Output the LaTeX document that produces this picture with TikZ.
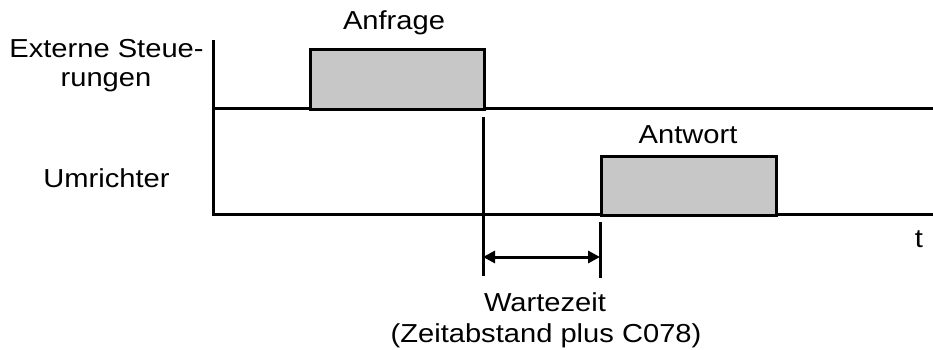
\documentclass[tikz,border=0pt]{standalone}
\usepackage{fontspec}
\setmainfont{Liberation Sans}[FakeStretch=1.12]
\usetikzlibrary{arrows.meta}
\begin{document}
\begin{tikzpicture}[x=1pt,y=-1pt,
  ln/.style={line width=3pt},
  pulse/.style={ln, fill=black!22},
  lbl/.style={font=\fontsize{26}{30}\selectfont, inner sep=0pt, anchor=base},
  dim/.style={line width=3pt, {Triangle[length=12pt,width=12pt]}-{Triangle[length=12pt,width=12pt]}}]
\useasboundingbox (0,0) rectangle (933,349);
% axes
\coordinate (ytop) at (213,40);
\coordinate (ybot) at (213,214);
\coordinate (r1a) at (213,108);
\coordinate (r1b) at (933,108);
\coordinate (r2b) at (933,214);
\draw[ln] (ytop) -- (ybot) -- (r2b);
\draw[ln] (r1a) -- (r1b);
% pulses
\node[pulse, draw, minimum width=174pt, minimum height=60pt, anchor=north west, inner sep=0pt] (req) at (309,48) {};
\node[pulse, draw, minimum width=175pt, minimum height=59pt, anchor=north west, inner sep=0pt] (ans) at (600,155) {};
% markers
\coordinate (m1a) at (483,117);
\coordinate (m1b) at (483,276);
\coordinate (m2a) at (600,222);
\coordinate (m2b) at (600,278);
\draw[ln] (m1a) -- (m1b);
\draw[ln] (m2a) -- (m2b);
\coordinate (d1) at (483,257);
\coordinate (d2) at (600,257);
\draw[dim] (d1) -- (d2);
% labels
\node[lbl] (tA) at (394,29) {Anfrage};
\node[lbl] (tB) at (688,143) {Antwort};
\node[lbl] (tt) at (919,247) {t};
\node[lbl] (tExt1) at (106.5,57) {Externe Steue-};
\node[lbl] (tExt2) at (106,86) {rungen};
\node[lbl] (tU) at (106.5,187) {Umrichter};
\node[lbl] (tW1) at (545,311) {Wartezeit};
\node[lbl] (tW2) at (546,342) {(Zeitabstand plus C078)};
\end{tikzpicture}
\end{document}
